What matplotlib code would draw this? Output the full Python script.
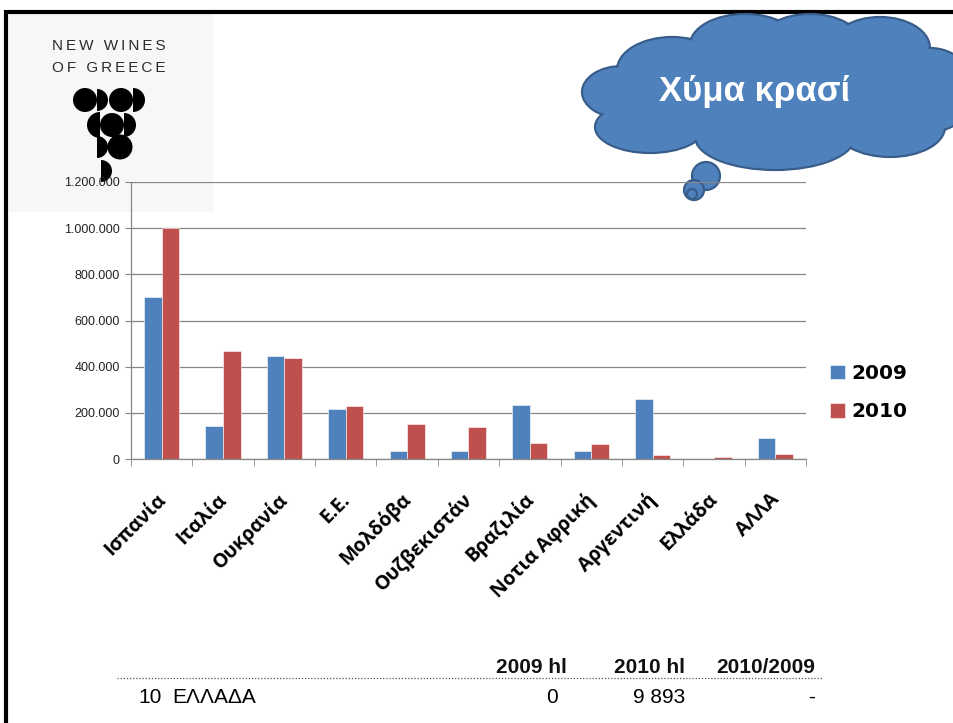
import numpy as np
import matplotlib.pyplot as plt
import matplotlib.transforms as mtransforms
from matplotlib.patches import Ellipse, Wedge, Rectangle, Circle

W, H = 954, 723

countries = ['Ισπανία', 'Ιταλία', 'Ουκρανία', 'Ε.Ε.', 'Μολδόβα', 'Ουζβεκιστάν',
             'Βραζιλία', 'Νοτια Αφρική', 'Αργεντινή', 'Ελλάδα', 'ΑΛΛΑ']
hl_2009 = [700000, 145000, 446000, 217000, 36000, 36000, 232000, 36000, 258000, 0, 92000]
hl_2010 = [1000000, 468000, 436000, 230000, 152000, 137000, 69000, 65000, 17000, 9893, 23000]
years = ['2009', '2010']
yticks = [0, 200000, 400000, 600000, 800000, 1000000, 1200000]

table_head = ['2009 hl', '2010 hl', '2010/2009']
table_row = ['10', 'ΕΛΛΑΔΑ', '0', '9 893', '-']

BLUE = '#4F81BD'
RED = '#C0504D'
GRID = '#878787'

fig = plt.figure(figsize=(W / 100, H / 100), dpi=100)

# background layer in pixel coords
bg = fig.add_axes([0, 0, 1, 1], zorder=0)
bg.set_xlim(0, W)
bg.set_ylim(H, 0)
bg.axis('off')

# slide frame (top and left edges)
bg.plot([5, W], [11.5, 11.5], color='black', lw=3.0, solid_capstyle='butt')
bg.plot([6.5, 6.5], [10, H], color='black', lw=3.0, solid_capstyle='butt')

# logo
bg.add_patch(Rectangle((9, 13.5), 204, 198, fc='#F7F7F7', ec='none'))
logo_font = ['Liberation Sans', 'DejaVu Sans']
bg.text(109, 46, '\u2009'.join('NEW') + '\u2009 \u2009' + '\u2009'.join('WINES'),
        ha='center', va='center', fontsize=11, color='#2b2b2b', family=logo_font)
bg.text(109, 68, '\u2009'.join('OF') + '\u2009 \u2009' + '\u2009'.join('GREECE'),
        ha='center', va='center', fontsize=11, color='#2b2b2b', family=logo_font)
grapes = [Circle((85, 100), 12), Wedge((97, 100), 11, -90, 90),
          Circle((121, 100), 12), Wedge((133, 100), 12, -90, 90),
          Wedge((100, 125), 13, 90, 270), Circle((112, 125), 12),
          Wedge((124, 125), 12, -90, 90),
          Wedge((97, 147), 11, -90, 90), Circle((120, 147), 12.5),
          Wedge((101, 171), 11, -90, 90)]
for g in grapes:
    g.set_facecolor('black')
    g.set_edgecolor('none')
    bg.add_patch(g)

# cloud callout
lobes = [(622, 92, 80, 52), (650, 127, 110, 52), (672, 70, 110, 66),
         (745, 45, 110, 62), (810, 42, 100, 56), (880, 48, 100, 62),
         (930, 90, 90, 84), (890, 127, 110, 60), (775, 137, 160, 66),
         (762, 92, 276, 112)]
for cx, cy, w, h in lobes:
    bg.add_patch(Ellipse((cx, cy), w, h, fc=BLUE, ec='#385D8A', lw=1.6, zorder=2))
for cx, cy, w, h in lobes:
    bg.add_patch(Ellipse((cx, cy), w - 3, h - 3, fc=BLUE, ec='none', zorder=3))
for cx, cy, r in [(706, 176, 14), (694, 190, 10), (692, 194, 5)]:
    bg.add_patch(Circle((cx, cy), r, fc=BLUE, ec='#385D8A', lw=1.6, zorder=4))
bg.text(755, 92, 'Χύμα κρασί', ha='center', va='center', fontsize=25,
        fontweight='bold', color='white', family='Liberation Sans', zorder=5)

# chart
ax = fig.add_axes([131 / W, 1 - 459 / H, 675 / W, 277 / H], zorder=1)
ax.patch.set_alpha(0)
x = np.arange(len(countries))
bw = 0.287
b1 = ax.bar(x - bw / 2, hl_2009, bw, color=BLUE, ec='white', lw=0.4, label=years[0])
b2 = ax.bar(x + bw / 2, hl_2010, bw, color=RED, ec='white', lw=0.4, label=years[1])
ax.set_xlim(-0.5, len(countries) - 0.5)
ax.set_ylim(0, 1200000)
ax.set_yticks(yticks)
ax.set_yticklabels([f'{v:,.0f}'.replace(',', '.') for v in yticks],
                   fontsize=9, family='Liberation Sans', color='#222222')
ax.yaxis.grid(True, color=GRID, lw=0.9)
ax.set_axisbelow(True)
for s in ['top', 'right']:
    ax.spines[s].set_visible(False)
for s in ['left', 'bottom']:
    ax.spines[s].set_color(GRID)
    ax.spines[s].set_linewidth(0.9)
ax.tick_params(axis='y', length=4, color=GRID, pad=4)
ax.set_xticks(x)
ax.set_xticks(np.arange(-0.5, len(countries), 1), minor=True)
ax.tick_params(axis='x', which='major', length=0, pad=2)
ax.tick_params(axis='x', which='minor', length=5, color=GRID)
ax.set_xticklabels(countries, rotation=45, ha='right', va='center',
                   rotation_mode='anchor', fontsize=14, fontweight='bold',
                   family=['Open Sans', 'Noto Sans', 'DejaVu Sans'])
off = mtransforms.ScaledTranslation(1 / 100, -35 / 100, fig.dpi_scale_trans)
for lab in ax.get_xticklabels():
    lab.set_transform(lab.get_transform() + off)

fig.legend(handles=[b1, b2], loc='upper left', bbox_to_anchor=(812 / W, 1 - 346 / H),
           frameon=False, prop={'weight': 'bold', 'size': 14.5, 'family': 'DejaVu Sans'},
           handlelength=0.75, handleheight=0.75, handletextpad=0.3, labelspacing=0.95)

# table at the bottom
tab_font = ['Liberation Sans', 'DejaVu Sans']
for txt, xr in zip(table_head, [567, 685, 815]):
    bg.text(xr, 673, txt, ha='right', va='baseline', fontsize=15, fontweight='bold',
            family=tab_font, color='#111111')
bg.plot([117, 822], [678, 678], color='#555555', lw=0.9, ls=(0, (1, 1.5)))
bg.text(138, 703, table_row[0], ha='left', va='baseline', fontsize=15, family=tab_font)
bg.text(172, 703, table_row[1], ha='left', va='baseline', fontsize=15, family=tab_font)
for txt, xr in zip(table_row[2:], [558, 685, 815]):
    bg.text(xr, 703, txt, ha='right', va='baseline', fontsize=15, family=tab_font)

fig.savefig('out.png', dpi=100)
